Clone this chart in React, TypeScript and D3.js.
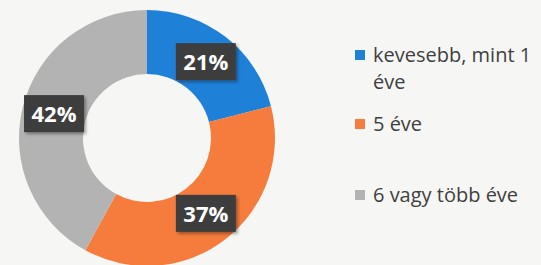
import React from 'react';
import * as d3 from 'd3';

const categories = ['kevesebb, mint 1 éve', '5 éve', '6 vagy több éve'];
const values = [21, 37, 42];
const colors = ['#1f80d8', '#f57c3c', '#b3b3b3'];
// legend label split into lines as shown
const legendLines = [['kevesebb, mint 1', 'éve'], ['5 éve'], ['6 vagy több éve']];

const W = 541, H = 265;

const App = () => {
  const cx = 147, cy = 138;
  const outerR = 128, innerR = 64;

  const pie = d3.pie<number>().sort(null).value(d => d);
  const arcs = pie(values);
  const arc = d3.arc<d3.PieArcDatum<number>>().innerRadius(innerR).outerRadius(outerR);
  const labelArc = d3.arc<d3.PieArcDatum<number>>().innerRadius(96).outerRadius(96);

  const legendY = [62, 131, 202];

  return (
    <svg width={W} height={H} style={{ position: 'absolute', left: 0, top: 0, background: '#f6f6f5' }}>
      <defs>
        <filter id="sh" x="-20%" y="-20%" width="150%" height="160%">
          <feDropShadow dx="2" dy="2" stdDeviation="1.5" floodColor="#000" floodOpacity="0.35" />
        </filter>
      </defs>
      <rect width={W} height={H} fill="#f6f6f5" />
      <g transform={`translate(${cx},${cy})`}>
        {arcs.map((a, i) => (
          <path key={i} d={arc(a)!} fill={colors[i]} />
        ))}
        {arcs.map((a, i) => {
          const [x, y] = labelArc.centroid(a);
          return (
            <g key={'l' + i} transform={`translate(${x},${y})`}>
              <rect x={-30} y={-19} width={60} height={37} fill="#3d3d3d" filter="url(#sh)" />
              <text textAnchor="middle" dy="8" fill="#ffffff" fontFamily="'Open Sans', sans-serif"
                fontWeight="bold" fontSize={22}>{values[i]}%</text>
            </g>
          );
        })}
      </g>
      <g fontFamily="'Open Sans', sans-serif" fontSize={20} fill="#3f3f3f">
        {categories.map((c, i) => (
          <g key={c}>
            <rect x={355} y={legendY[i] - 12} width={10} height={10} fill={colors[i]} />
            {legendLines[i].map((ln, j) => (
              <text key={j} x={373} y={legendY[i] + j * 27}>{ln}</text>
            ))}
          </g>
        ))}
      </g>
    </svg>
  );
};

export default App;
